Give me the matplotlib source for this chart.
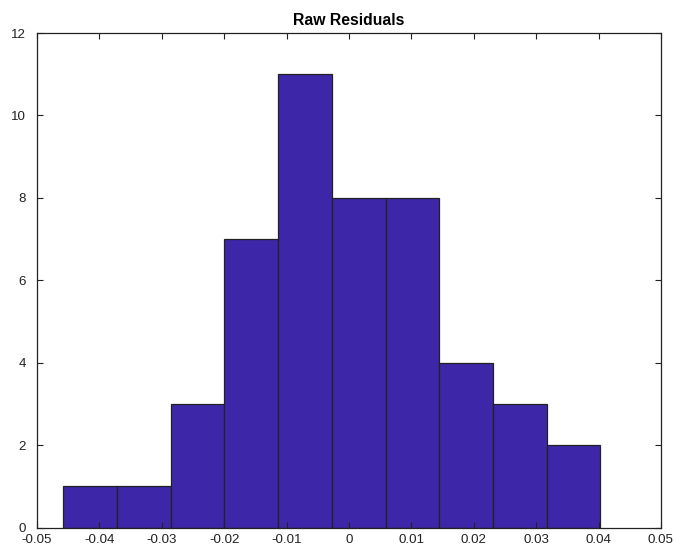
import numpy as np
import matplotlib
matplotlib.use("Agg")
import matplotlib.pyplot as plt

counts = [1, 1, 3, 7, 11, 8, 8, 4, 3, 2]
bin_min = -0.04578
bin_max = 0.04028
edges = np.linspace(bin_min, bin_max, len(counts) + 1)
xticks = [-0.05, -0.04, -0.03, -0.02, -0.01, 0, 0.01, 0.02, 0.03, 0.04, 0.05]
xticklabels = ["-0.05", "-0.04", "-0.03", "-0.02", "-0.01", "0", "0.01", "0.02", "0.03", "0.04", "0.05"]
yticks = [0, 2, 4, 6, 8, 10, 12]

plt.rcParams['font.family'] = ['Liberation Sans', 'DejaVu Sans']

fig = plt.figure(figsize=(6.74, 5.47), dpi=100)
ax = fig.add_axes([37/674, (547-527.7)/547, (661-37)/674, (527.7-33)/547])
ax.hist(edges[:-1], bins=edges, weights=counts, color='#3E26A8',
        edgecolor='#222222', linewidth=0.9)
ax.set_xlim(-0.05, 0.05)
ax.set_ylim(0, 12)
ax.set_xticks(xticks)
ax.set_xticklabels(xticklabels)
ax.set_yticks(yticks)
ax.tick_params(direction='in', top=True, right=True, labelsize=9.6, length=4, width=0.8, colors='#222222')
ax.tick_params(axis='x', pad=4.8)
ax.tick_params(axis='y', pad=8)
for s in ax.spines.values():
    s.set_linewidth(0.9)
    s.set_color('#222222')
ax.set_title('Raw Residuals', fontsize=11.3, fontweight='bold', pad=6)
fig.savefig('out.png', dpi=100)
